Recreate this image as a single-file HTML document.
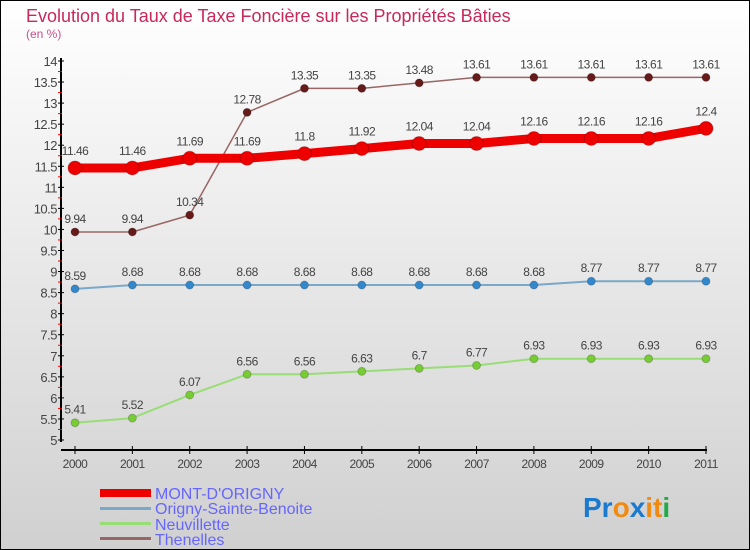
<!DOCTYPE html>
<html><head><meta charset="utf-8"><style>
body{margin:0}
#c{width:750px;height:550px;position:relative;overflow:hidden}
text{font-family:"Liberation Sans",sans-serif}
</style></head><body>
<div id="c">
<svg id="s" width="750" height="550" xmlns="http://www.w3.org/2000/svg">
<defs><linearGradient id="bg" x1="0" y1="0" x2="0" y2="1"><stop offset="0" stop-color="#ffffff"/><stop offset="1" stop-color="#d0d0d0"/></linearGradient></defs>
<rect x="0.5" y="0.5" width="749" height="549" fill="url(#bg)" stroke="#000"/>
<text x="26" y="22" font-size="18" fill="#c8285a">Evolution du Taux de Taxe Foncière sur les Propriétés Bâties</text>
<text x="26" y="38" font-size="12" fill="#c8508a">(en %)</text>
<g id="axes"></g><g id="series"></g>
<g>
<rect x="100" y="489" width="51" height="8" fill="#ee0000"/>
<text x="155" y="499" font-size="16" fill="#6666ff">MONT-D'ORIGNY</text>
<rect x="100" y="507" width="51" height="3" fill="#7aa8c8"/>
<text x="155" y="514" font-size="16" fill="#6666ff">Origny-Sainte-Benoite</text>
<rect x="100" y="522" width="51" height="3" fill="#99dd77"/>
<text x="155" y="530" font-size="16" fill="#6666ff">Neuvillette</text>
<rect x="100" y="537" width="51" height="3" fill="#996666"/>
<text x="155" y="545" font-size="16" fill="#6666ff">Thenelles</text>
</g>
<text x="583" y="517" font-size="28" font-weight="bold"><tspan fill="#1a7ad0">Pr</tspan><tspan fill="#f08a10">o</tspan><tspan fill="#1a7ad0">x</tspan><tspan fill="#f08a10">i</tspan><tspan fill="#f08a10">t</tspan><tspan fill="#22aa44">i</tspan></text>
</svg></div>
<script>
const years=["2000","2001","2002","2003","2004","2005","2006","2007","2008","2009","2010","2011"];
const yTicks=[5,5.5,6,6.5,7,7.5,8,8.5,9,9.5,10,10.5,11,11.5,12,12.5,13,13.5,14];
const mont=[11.46,11.46,11.69,11.69,11.8,11.92,12.04,12.04,12.16,12.16,12.16,12.4];
const origny=[8.59,8.68,8.68,8.68,8.68,8.68,8.68,8.68,8.68,8.77,8.77,8.77];
const neuv=[5.41,5.52,6.07,6.56,6.56,6.63,6.7,6.77,6.93,6.93,6.93,6.93];
const then=[9.94,9.94,10.34,12.78,13.35,13.35,13.48,13.61,13.61,13.61,13.61,13.61];
const NS="http://www.w3.org/2000/svg";
const X=i=>75+i*(706-75)/(years.length-1);
const Y=v=>440-(v-5)*(440-61)/9;
function mk(t,a,p){const e=document.createElementNS(NS,t);for(const k in a)e.setAttribute(k,a[k]);p.appendChild(e);return e;}
const ax=document.getElementById('axes');
let l=mk('line',{x1:61,y1:58,x2:61,y2:442,stroke:'#000','stroke-width':2},ax);


l=mk('line',{x1:61,y1:450,x2:707,y2:450,stroke:'#000','stroke-width':2},ax);


yTicks.forEach((v,i)=>{
 const y=Y(v);
 mk('line',{x1:58,y1:y,x2:64,y2:y,stroke:'#000'},ax);
 if(i<yTicks.length-1){mk('line',{x1:58,y1:Y(v+0.25),x2:62,y2:Y(v+0.25),stroke:'#e00'},ax);}
 const t=mk('text',{x:57,y:y+5,'font-size':13,fill:'#444','text-anchor':'end','letter-spacing':'-0.5'},ax);
 t.textContent=String(v);
 
 
});
years.forEach((yr,i)=>{
 mk('line',{x1:X(i),y1:446,x2:X(i),y2:454,stroke:'#000'},ax);
 const t=mk('text',{x:X(i),y:468,'font-size':12,fill:'#444','text-anchor':'middle','letter-spacing':'-0.5'},ax);
 t.textContent=yr;
 
 
});
const sg=document.getElementById('series');
function series(vals,name,line,w,dot,r,lab){
 const g=mk('g',{},sg);
 
 
 const pl=mk('polyline',{points:vals.map((v,i)=>X(i)+','+Y(v)).join(' '),fill:'none',stroke:line,'stroke-width':w,'stroke-linejoin':'round'},g);
 
 
 vals.forEach((v,i)=>{
  const c=mk('circle',{cx:X(i),cy:Y(v),r:r,fill:dot,stroke:'rgba(0,0,0,0.2)'},g);
  
  
  const t=mk('text',{x:X(i),y:Y(v)-lab,'font-size':12,fill:'#444','text-anchor':'middle','letter-spacing':'-0.5'},g);
  t.textContent=String(v);
  
  
 });
}
series(then,'thenelles','#996666',1.5,'#661a1a',4,9);
series(origny,'origny','#7aa8c8',2,'#3388cc',4,9);
series(neuv,'neuvillette','#99dd77',2,'#77cc33',4,9);
series(mont,'mont-d-origny','#ee0000',9,'#ee0000',7,13);
</script>
</body></html>
